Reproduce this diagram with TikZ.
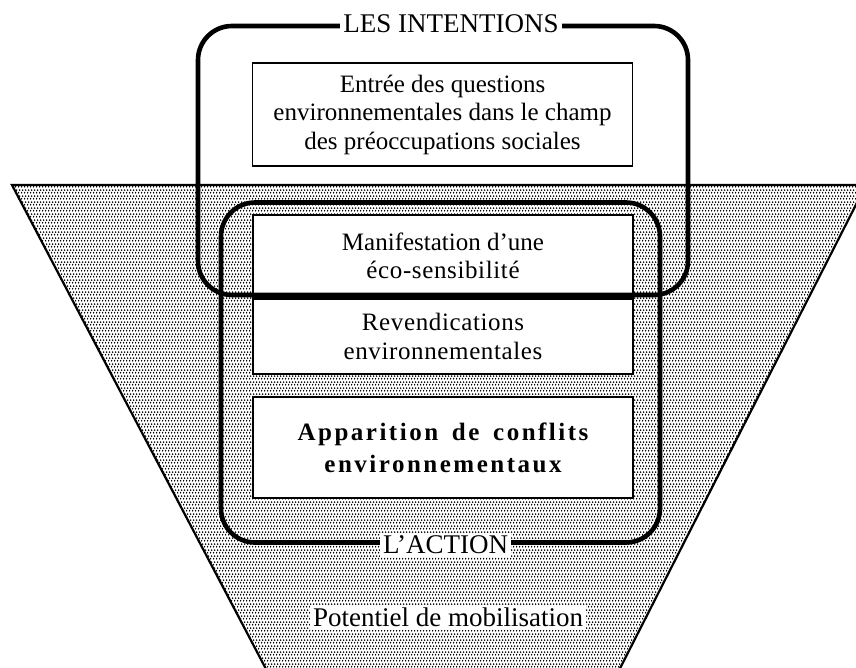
\documentclass[tikz,border=0pt]{standalone}
\usepackage{fontspec}
\setmainfont{Liberation Serif}
\newfontfamily\looseserif[LetterSpace=2.5]{Liberation Serif}
\newfontfamily\wideserif[LetterSpace=10.0]{Liberation Serif}
\usepackage{tikz}
\usetikzlibrary{positioning,patterns}
\pgfdeclarepatternformonly{stipple}{\pgfpointorigin}{\pgfpoint{3pt}{6pt}}{\pgfpoint{3pt}{6pt}}{%
  \pgfpathcircle{\pgfpoint{0.75pt}{1.5pt}}{1.08pt}%
  \pgfpathcircle{\pgfpoint{2.25pt}{4.5pt}}{1.08pt}%
  \pgfusepath{fill}}
\tikzset{mfunnel/.style={draw=black, line width=2.2pt, line join=miter, pattern=stipple, pattern color=black}}
\tikzset{mbox/.style={rectangle, draw=black, line width=1.6pt, fill=white, minimum width=380, inner sep=0pt, align=center, font=\fontsize{25}{28.5}\selectfont}}
\tikzset{mloosebox/.style={mbox, font=\fontsize{25}{28.5}\selectfont\looseserif}}
\tikzset{mboldbox/.style={mbox, font=\fontsize{25}{32}\selectfont\wideserif\bfseries}}
\tikzset{mzone/.style={rectangle, rounded corners=34pt, draw=black, line width=4.6pt}}
\tikzset{mlabel/.style={fill=white, inner xsep=3pt, inner ysep=3pt, font=\fontsize{27}{30}\selectfont}}

\begin{document}
\begin{tikzpicture}[x=1pt,y=-1pt]
  \useasboundingbox (0,0) rectangle (856,668);
  \clip (0,0) rectangle (856,668);

  % le potentiel de mobilisation
  \path[mfunnel] (12,185) -- (866,185) -- (609,690) -- (277,690) -- cycle;

  \node[mbox, minimum height=103] (entree) at (442.5,114.5) {Entrée des questions\\environnementales dans le champ\\des préoccupations sociales};
  \node[mbox, minimum height=82] (manif) at (443,256) {Manifestation d’une\\{\looseserif éco-sensibilité}};
  \node[mloosebox, minimum height=75] (revend) at (443,336.5) {Revendications\\environnementales};
  \node[mboldbox, minimum height=101] (conflits) at (443,447.5) {Apparition\hspace{5pt} de\hspace{5pt} conflits\\environnementaux};

  \node[mzone, minimum width=490, minimum height=269] (intentions) at (443,160.5) {};
  \node[mzone, minimum width=439, minimum height=340] (action) at (440.5,372.5) {};

  \node[mlabel, xshift=8pt] (intentionslabel) at (intentions.north) {LES INTENTIONS};
  \node[mlabel, xshift=5pt] (actionlabel) at (action.south) {L’ACTION};
  \node[mlabel] (potentiel) at (448,617) {Potentiel de mobilisation};
\end{tikzpicture}
\end{document}
